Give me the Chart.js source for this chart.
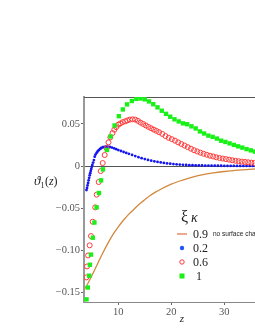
<!DOCTYPE html>
<html><head><meta charset="utf-8">
<script src="https://cdn.jsdelivr.net/npm/chart.js@4"></script>
<style>html,body{margin:0;padding:0;background:#fff;overflow:hidden;width:255px;height:330px}canvas{display:block}</style>
</head><body><canvas id="c" width="262" height="330"></canvas>
<script>
const yTicks = [-0.15, -0.10, -0.05, 0, 0.05];
const yTickLabels = ['−0.15', '−0.10', '−0.05', '0', '0.05'];
const xTicks = [10, 20, 30];
const xTickLabels = ['10', '20', '30'];
const legendTitle = ['ξ', 'κ'];
const seriesLabels = ['0.9', '0.2', '0.6', '1'];
const noteText = 'no surface charge';

// ξκ = 0.9 (solid line)
const orangeZ = [3.4, 4.1, 5.0, 6.0, 7.0, 8.0, 9.0, 10.0, 11.0, 12.0, 13.0, 14.0, 15.0, 16.0, 17.0, 18.0, 20.0, 22.0, 24.0, 26.0, 28.0, 30.0, 32.0, 34.0, 36.0, 38.0];
const orangeV = [-0.148, -0.141, -0.130, -0.117, -0.104, -0.092, -0.081, -0.072, -0.064, -0.057, -0.051, -0.045, -0.040, -0.035, -0.031, -0.0275, -0.0215, -0.017, -0.0132, -0.0102, -0.0082, -0.0065, -0.0053, -0.0043, -0.0033, -0.0027];

// ξκ = 0.2 (blue dots)
const blueZ = [4.0, 4.1, 4.2, 4.3, 4.4, 4.5, 4.6, 4.7, 4.8, 4.9, 5.0, 5.1, 5.25, 5.4, 5.55, 5.7, 5.9, 6.1, 6.3, 6.55, 6.8, 7.1, 7.4, 7.7, 8.0, 8.4, 8.8, 9.2, 9.6, 10.0, 10.5, 11.0, 11.5, 12.0, 12.6, 13.2, 13.8, 14.4, 15.0, 15.6, 16.2, 16.8, 17.4, 18.0, 18.6, 19.2, 19.8, 20.4, 21.0, 21.6, 22.2, 22.8, 23.4, 24.0, 24.6, 25.2, 25.8, 26.4, 27.0, 27.6, 28.2, 28.8, 29.4, 30.0, 30.6, 31.2, 31.8, 32.4, 33.0, 33.6, 34.2, 34.8, 35.4, 36.0, 36.6];
const blueV = [-0.0285, -0.026, -0.023, -0.020, -0.017, -0.014, -0.011, -0.0085, -0.006, -0.0035, -0.001, 0.0012, 0.004, 0.007, 0.011, 0.0135, 0.0155, 0.0172, 0.0188, 0.0202, 0.0213, 0.0222, 0.0227, 0.0230, 0.0229, 0.0225, 0.0218, 0.0209, 0.0199, 0.0189, 0.0178, 0.0166, 0.0155, 0.0144, 0.0131, 0.0118, 0.0105, 0.0093, 0.0082, 0.0072, 0.0063, 0.0055, 0.0048, 0.0042, 0.0036, 0.0031, 0.0027, 0.0023, 0.0020, 0.0017, 0.0014, 0.0012, 0.0010, 0.0009, 0.0008, 0.0007, 0.0006, 0.0005, 0.00045, 0.0004, 0.00035, 0.0003, 0.00027, 0.00024, 0.0002, 0.00018, 0.00016, 0.00014, 0.00012, 0.0001, 0.0001, 0.00009, 0.00008, 0.00007, 0.00006];

// ξκ = 0.6 (open red circles)
const redZ = [3.96, 4.1, 4.3, 4.6, 4.85, 5.17, 5.65, 5.92, 6.3, 6.68, 7.06, 7.43, 7.8, 8.15, 8.5, 8.9, 9.25, 9.6, 10.0, 10.4, 10.85, 11.3, 11.7, 12.2, 12.7, 13.2, 13.7, 14.2, 14.7, 15.2, 15.7, 16.2, 16.7, 17.2, 17.7, 18.3, 18.9, 19.5, 20.1, 20.7, 21.3, 21.9, 22.5, 23.1, 23.7, 24.3, 24.9, 25.5, 26.1, 26.7, 27.3, 27.9, 28.5, 29.1, 29.7, 30.3, 30.9, 31.5, 32.1, 32.7, 33.3, 33.9, 34.5, 35.1, 35.7, 36.3];
const redV = [-0.132, -0.119, -0.106, -0.094, -0.083, -0.066, -0.049, -0.034, -0.019, -0.006, 0.0035, 0.013, 0.021, 0.028, 0.034, 0.039, 0.043, 0.046, 0.049, 0.0505, 0.052, 0.053, 0.054, 0.055, 0.0553, 0.0550, 0.0535, 0.0514, 0.0498, 0.048, 0.0463, 0.0447, 0.0431, 0.0416, 0.0400, 0.0380, 0.0355, 0.0334, 0.0318, 0.0300, 0.028, 0.026, 0.0242, 0.0224, 0.0205, 0.0187, 0.0172, 0.0158, 0.0145, 0.0133, 0.0122, 0.0113, 0.0103, 0.0095, 0.0088, 0.0082, 0.0075, 0.0068, 0.0062, 0.0057, 0.0052, 0.0048, 0.0044, 0.004, 0.0036, 0.0033];

// ξκ = 1 (green squares)
const greenZ = [4.0, 4.25, 4.5, 4.65, 4.85, 5.2, 5.5, 5.9, 6.35, 6.75, 7.1, 7.85, 8.55, 9.3, 10.1, 10.85, 11.65, 12.55, 13.4, 14.2, 15.0, 15.8, 16.6, 17.4, 18.2, 19.0, 19.8, 20.6, 21.4, 22.2, 23.0, 23.8, 24.6, 25.4, 26.2, 27.0, 27.8, 28.6, 29.4, 30.2, 31.0, 31.8, 32.6, 33.4, 34.2, 35.0, 35.8, 36.6];
const greenV = [-0.158, -0.144, -0.130, -0.117, -0.105, -0.085, -0.067, -0.049, -0.032, -0.017, -0.004, 0.019, 0.035, 0.048, 0.059, 0.067, 0.073, 0.077, 0.0795, 0.0800, 0.0790, 0.0765, 0.0732, 0.0695, 0.0655, 0.0618, 0.0584, 0.0553, 0.0528, 0.0505, 0.0495, 0.047, 0.0445, 0.041, 0.0385, 0.036, 0.0345, 0.0325, 0.030, 0.0285, 0.0268, 0.025, 0.0233, 0.0218, 0.020, 0.0185, 0.0170, 0.0158];

const pts = (zs, vs) => zs.map((z, i) => ({x: z, y: vs[i]}));

const COL = {orange: '#d2883c', blue: '#1515f0', red: '#ff3a3a', green: '#18f018'};
const serif = '"Liberation Serif", "DejaVu Serif", serif';

const deco = {
  id: 'deco',
  beforeDatasetsDraw(chart) {
    const ctx = chart.ctx, a = chart.chartArea;
    ctx.save();
    ctx.strokeStyle = '#555'; ctx.lineWidth = 1;
    ctx.beginPath(); ctx.moveTo(a.left, a.top + 0.5); ctx.lineTo(a.right, a.top + 0.5); ctx.stroke();
    ctx.restore();
  },
  afterDraw(chart) {
    const ctx = chart.ctx;
    ctx.save();
    ctx.fillStyle = '#222';
    ctx.textBaseline = 'alphabetic';
    // y title
    let x = 34, y = 185;
    ctx.font = 'italic 13px ' + serif; ctx.fillText('ϑ', x, y); x += ctx.measureText('ϑ').width;
    ctx.font = '8px ' + serif; ctx.fillText('1', x, y + 3); x += ctx.measureText('1').width + 0.5;
    ctx.font = '12px ' + serif; ctx.fillText('(', x, y); x += ctx.measureText('(').width;
    ctx.font = 'italic 12px ' + serif; ctx.fillText('z', x, y); x += ctx.measureText('z').width;
    ctx.font = '12px ' + serif; ctx.fillText(')', x, y);
    // x title
    ctx.font = 'italic 11px ' + serif; ctx.textAlign = 'center';
    ctx.fillText('z', 182, 322);
    ctx.textAlign = 'left';
    // legend title
    ctx.font = '16px ' + serif; ctx.fillText(legendTitle[0], 181, 222);
    ctx.font = 'italic 14px ' + serif; ctx.fillText(legendTitle[1], 191, 222);
    // legend rows
    const rows = [238, 252, 266, 280];
    const tx = 193;
    ctx.font = '12px ' + serif;
    seriesLabels.forEach((t, i) => ctx.fillText(t, i === 3 ? tx + 3 : tx, rows[i]));
    ctx.font = '6.5px "Liberation Sans", Arial, sans-serif';
    ctx.fillText(noteText, 213, 236);
    // symbols
    const cy = rows.map(r => r - 4);
    ctx.strokeStyle = '#e07a50'; ctx.lineWidth = 1.3;
    ctx.beginPath(); ctx.moveTo(177, cy[0]); ctx.lineTo(187, cy[0]); ctx.stroke();
    ctx.fillStyle = '#2255ff';
    ctx.beginPath(); ctx.arc(182, cy[1], 2.2, 0, Math.PI * 2); ctx.fill();
    ctx.strokeStyle = COL.red; ctx.lineWidth = 1;
    ctx.beginPath(); ctx.arc(182, cy[2], 2.2, 0, Math.PI * 2); ctx.stroke();
    ctx.fillStyle = COL.green;
    ctx.fillRect(179.5, cy[3] - 2.5, 5, 5);
    ctx.restore();
  }
};

const chart = new Chart(document.getElementById('c'), {
  type: 'scatter',
  data: {
    datasets: [
      {label: seriesLabels[0], data: pts(orangeZ, orangeV), showLine: true, pointRadius: 0, borderColor: COL.orange, borderWidth: 1.3, cubicInterpolationMode: 'monotone', order: 3},
      {label: seriesLabels[1], data: pts(blueZ, blueV), pointRadius: 1.4, pointBackgroundColor: COL.blue, pointBorderWidth: 0, order: 2},
      {label: seriesLabels[2], data: pts(redZ, redV), pointRadius: 2.5, pointBackgroundColor: 'rgba(0,0,0,0)', pointBorderColor: COL.red, pointBorderWidth: 1, order: 1},
      {label: seriesLabels[3], data: pts(greenZ, greenV), pointStyle: 'rect', pointRadius: 3.1, pointBackgroundColor: COL.green, pointBorderWidth: 0, order: 0}
    ]
  },
  options: {
    responsive: false, animation: false, devicePixelRatio: 1,
    layout: {padding: {top: 97, left: 0, right: 0, bottom: 0}},
    plugins: {legend: {display: false}, tooltip: {enabled: false}},
    scales: {
      x: {
        type: 'linear', min: 3.53, max: 37,
        afterBuildTicks: s => { s.ticks = xTicks.map(v => ({value: v})); },
        afterFit: s => { s.height = 28; s.paddingLeft = 0; s.paddingRight = 0; },
        ticks: {callback: (v) => xTickLabels[xTicks.indexOf(v)] ?? '', font: {family: serif, size: 10.5}, color: '#555', padding: 1, maxRotation: 0, autoSkip: false},
        grid: {drawOnChartArea: false, color: '#777', tickColor: '#666', tickLength: 3},
        border: {color: '#888', width: 1}
      },
      y: {
        type: 'linear', min: -0.1611, max: 0.0814,
        afterBuildTicks: s => { s.ticks = yTicks.map(v => ({value: v})); },
        afterFit: s => { s.width = 84; },
        ticks: {callback: (v) => yTickLabels[yTicks.findIndex(t => Math.abs(t - v) < 1e-9)] ?? '', font: {family: serif, size: 10.5}, color: '#555', padding: 1, autoSkip: false},
        grid: {color: c => (c.tick && Math.abs(c.tick.value) < 1e-9) ? '#555' : 'rgba(0,0,0,0)', tickColor: '#666', tickLength: 3},
        border: {color: '#999', width: 2}
      }
    }
  },
  plugins: [deco]
});
// calibrate the axis ranges to the reference's scale (10 at x=118.3, 5.3 px per unit; 0 at y=166, 844 px per unit)
const a = chart.chartArea;
chart.options.scales.x.min = 10 - (118.3 - a.left) / 5.3;
chart.options.scales.x.max = 10 + (a.right - 118.3) / 5.3;
chart.options.scales.y.max = (166 - a.top) / 844;
chart.options.scales.y.min = -(a.bottom - 166) / 844;
chart.update();
</script>
</body></html>
